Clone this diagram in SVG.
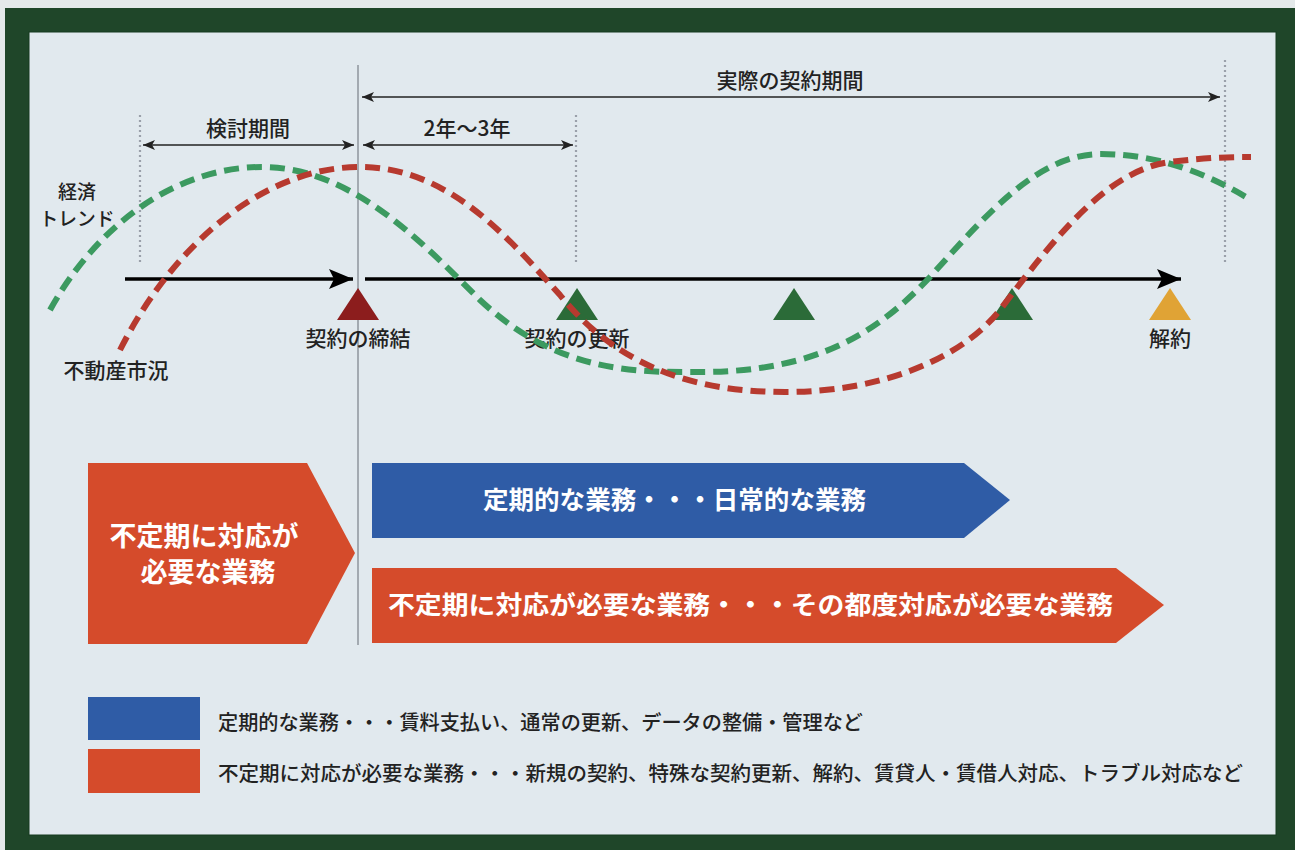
<svg xmlns="http://www.w3.org/2000/svg" width="1295" height="850" viewBox="0 0 1295 850">
<defs>
<style>
.t{font-family:"Noto Sans CJK JP","Noto Sans",sans-serif;fill:#222;font-weight:500;}
.b{font-family:"Noto Sans CJK JP","Noto Sans",sans-serif;fill:#fff;font-weight:bold;}
.dot{stroke:#9aa0aa;stroke-width:2.2;stroke-dasharray:2 3;fill:none;}
.thin{stroke:#222;stroke-width:1.6;fill:none;marker-start:url(#sa);marker-end:url(#sa);}
.main{stroke:#000;stroke-width:3.5;fill:none;marker-end:url(#ma);}
.cg{stroke:#3c9a60;stroke-width:6;stroke-dasharray:15 8;fill:none;}
.cr{stroke:#b73a2f;stroke-width:6;stroke-dasharray:15 8;fill:none;}
</style>
<marker id="sa" markerUnits="userSpaceOnUse" markerWidth="14" markerHeight="12" refX="12" refY="5" orient="auto-start-reverse" viewBox="0 0 14 10">
<path d="M0,0 L12,5 L0,10 L3,5 z" fill="#222"/>
</marker>
<marker id="ma" markerUnits="userSpaceOnUse" markerWidth="26" markerHeight="22" refX="24" refY="10" orient="auto" viewBox="0 0 26 20">
<path d="M0,0 L24,10 L0,20 L5,10 z" fill="#000"/>
</marker>
</defs>
<rect x="0" y="0" width="1295" height="850" fill="#e4e9ea"/>
<rect x="5" y="8" width="1290" height="842" fill="#1f4629"/>
<rect x="29" y="32" width="1247" height="803" fill="#e1e9ee" stroke="#163a20" stroke-width="1"/>

<g id="guides">
<line x1="358" y1="65" x2="358" y2="645" stroke="#8e959c" stroke-width="1.5"/>
<line class="dot" x1="140" y1="115" x2="140" y2="263"/>
<line class="dot" x1="576" y1="115" x2="576" y2="263"/>
<line class="dot" x1="1225" y1="60" x2="1225" y2="263"/>
</g>

<g id="periods">
<line class="thin" x1="362" y1="97" x2="1220" y2="97"/>
<text class="t" x="790" y="88" font-size="21" text-anchor="middle">実際の契約期間</text>
<line class="thin" x1="143" y1="145" x2="354" y2="145"/>
<text class="t" x="248" y="136" font-size="21" text-anchor="middle">検討期間</text>
<line class="thin" x1="363" y1="145" x2="573" y2="145"/>
<text class="t" x="467" y="136" font-size="21" text-anchor="middle">2年〜3年</text>
</g>

<g id="timeline">
<line class="main" x1="125" y1="279" x2="353" y2="279"/>
<line class="main" x1="365" y1="279" x2="1181" y2="279"/>
</g>

<g id="milestones">
<polygon points="358,288 379,320 337,320" fill="#8c1d1d"/>
<polygon points="577,288 598,320 556,320" fill="#2b6b38"/>
<polygon points="794,288 815,320 773,320" fill="#2b6b38"/>
<polygon points="1012,288 1033,320 991,320" fill="#2b6b38"/>
<polygon points="1170,288 1191,320 1149,320" fill="#e0a335"/>
<text class="t" x="358" y="346" font-size="21" text-anchor="middle">契約の締結</text>
<text class="t" x="577" y="346" font-size="21" text-anchor="middle">契約の更新</text>
<text class="t" x="1170" y="346" font-size="21" text-anchor="middle">解約</text>
</g>

<g id="curves">
<path class="cg" d="M50,310 C100,220 180,167 262,167 C350,167 420,240 480,300 C560,375 640,372 700,372 C820,372 880,330 930,277 C990,210 1040,154 1101,154 C1160,154 1210,175 1251,200"/>
<path class="cr" d="M120,350 C170,250 260,167 360,167 C450,167 510,240 560,295 C620,370 700,392 785,392 C880,392 960,360 1000,310 C1060,230 1110,170 1170,162 C1210,157 1235,157 1251,157"/>
<text class="t" x="77" y="199" font-size="19" text-anchor="middle">経済</text>
<text class="t" x="77" y="226" font-size="19" text-anchor="middle" textLength="75" lengthAdjust="spacingAndGlyphs">トレンド</text>
<text class="t" x="116" y="378" font-size="21" text-anchor="middle">不動産市況</text>
</g>

<g id="left-box">
<polygon points="88,463 307,463 355,553 307,644 88,644" fill="#d54b2b"/>
<text class="b" x="204" y="546" font-size="27" text-anchor="middle">不定期に対応が</text>
<text class="b" x="208" y="582" font-size="27" text-anchor="middle">必要な業務</text>
</g>

<g id="blue-bar">
<polygon points="372,463 964,463 1010,500 964,538 372,538" fill="#2f5ca6"/>
<text class="b" x="483" y="509" font-size="25" textLength="383" lengthAdjust="spacingAndGlyphs">定期的な業務・・・日常的な業務</text>
</g>

<g id="red-bar">
<polygon points="372,568 1116,568 1164,605 1116,643 372,643" fill="#d54b2b"/>
<text class="b" x="388" y="614" font-size="25" textLength="725" lengthAdjust="spacingAndGlyphs">不定期に対応が必要な業務・・・その都度対応が必要な業務</text>
</g>

<g id="legend">
<rect x="88" y="697" width="112" height="43" fill="#2f5ca6"/>
<rect x="88" y="749" width="112" height="44" fill="#d54b2b"/>
<text class="t" x="218" y="730" font-size="20" textLength="645" lengthAdjust="spacingAndGlyphs">定期的な業務・・・賃料支払い、通常の更新、データの整備・管理など</text>
<text class="t" x="218" y="781" font-size="20" textLength="1025" lengthAdjust="spacingAndGlyphs">不定期に対応が必要な業務・・・新規の契約、特殊な契約更新、解約、賃貸人・賃借人対応、トラブル対応など</text>
</g>
</svg>
